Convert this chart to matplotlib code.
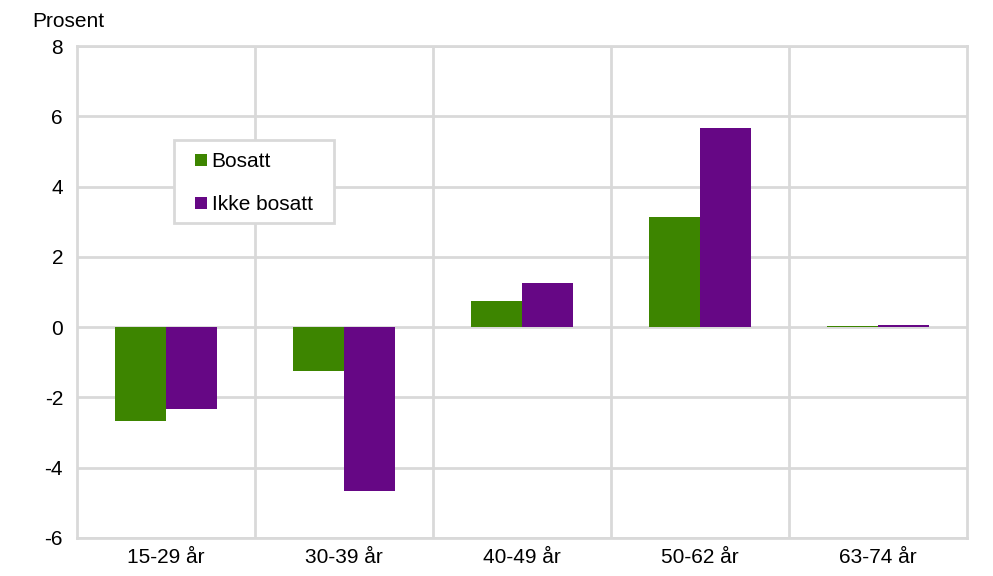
import matplotlib
matplotlib.use("Agg")
import matplotlib.pyplot as plt
from matplotlib.patches import Rectangle
import numpy as np

plt.rcParams['font.family'] = ['Liberation Sans', 'DejaVu Sans']
plt.rcParams['axes.unicode_minus'] = False

categories = ["15-29 år", "30-39 år", "40-49 år", "50-62 år", "63-74 år"]
bosatt = [-2.67, -1.25, 0.74, 3.13, 0.02]
ikke_bosatt = [-2.33, -4.67, 1.25, 5.66, 0.05]

green = "#3D8500"
purple = "#660785"
grid = "#D9D9D9"
fs = 15

fig = plt.figure(figsize=(9.93, 5.76), dpi=100)
ax = fig.add_axes([0.0775, 0.066, 0.8965, 0.854])

x = np.arange(len(categories))
w = 0.285
ax.bar(x - w/2, bosatt, w, color=green, label="Bosatt", zorder=3)
ax.bar(x + w/2, ikke_bosatt, w, color=purple, label="Ikke bosatt", zorder=3)

ax.set_xlim(-0.5, len(categories) - 0.5)
ax.set_ylim(-6, 8)
ax.set_yticks(np.arange(-6, 9, 2))
ax.set_xticks(x)
ax.set_xticklabels(categories)
ax.tick_params(axis='both', length=0, labelsize=fs, colors='black')
ax.tick_params(axis='y', pad=10)
ax.tick_params(axis='x', pad=7)

ax.grid(axis='y', color=grid, linewidth=2, zorder=0)
for b in np.arange(0.5, len(categories) - 0.5, 1):
    ax.axvline(b, color=grid, linewidth=2, zorder=0)
for s in ax.spines.values():
    s.set_color(grid)
    s.set_linewidth(2)

ax.text(-0.05, 1.03, "Prosent", transform=ax.transAxes, fontsize=fs, ha='left', va='bottom')

# legend box
bx, by, bw, bh = 0.109, 0.6400, 0.180, 0.1687
ax.add_patch(Rectangle((bx, by), bw, bh, transform=ax.transAxes, facecolor='white',
                       edgecolor=grid, linewidth=2, zorder=5))
leg = ax.legend(loc='center', bbox_to_anchor=(bx + bw/2, by + bh/2 - 0.003), fontsize=fs,
                frameon=False, handlelength=0.53, handleheight=0.53,
                handletextpad=0.25, labelspacing=1.14, borderpad=0, borderaxespad=0)
leg.set_zorder(6)

fig.savefig("out.png", dpi=100)
